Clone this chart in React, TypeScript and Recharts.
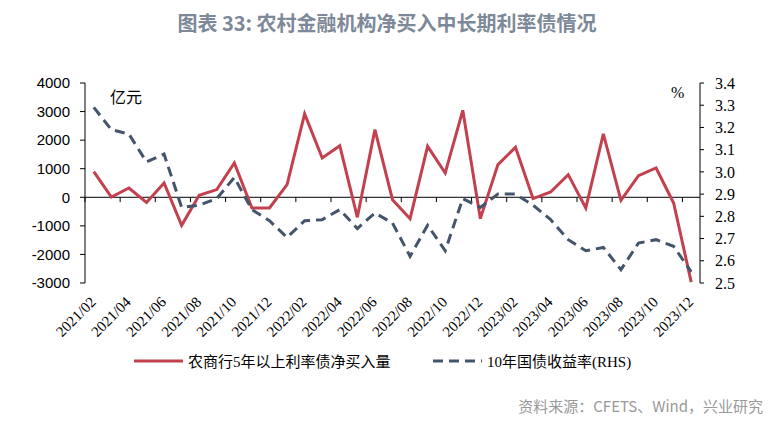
import { ComposedChart, Line, XAxis, YAxis, ReferenceLine } from "recharts";

const months = [
  "2021/02", "2021/03", "2021/04", "2021/05", "2021/06", "2021/07", "2021/08", "2021/09",
  "2021/10", "2021/11", "2021/12", "2022/01", "2022/02", "2022/03", "2022/04", "2022/05",
  "2022/06", "2022/07", "2022/08", "2022/09", "2022/10", "2022/11", "2022/12", "2023/01",
  "2023/02", "2023/03", "2023/04", "2023/05", "2023/06", "2023/07", "2023/08", "2023/09",
  "2023/10", "2023/11", "2023/12",
];

// 农商行5年以上利率债净买入量（亿元）
const netBuy = [
  900, 10, 325, -180, 500, -980, 70, 270, 1200, -375, -375, 440, 2915, 1375, 1807, -701,
  2368, -83, -748, 1784, 851, 3044, -748, 1142, 1749, -48, 186, 792, -375, 2216, -106, 757,
  1026, -200, -2970,
];

// 10年国债收益率（%）
const yield10y = [
  3.29, 3.19, 3.17, 3.045, 3.08, 2.84, 2.85, 2.88, 2.975, 2.83, 2.78, 2.705, 2.78, 2.785,
  2.83, 2.745, 2.815, 2.77, 2.62, 2.76, 2.645, 2.88, 2.84, 2.9, 2.9, 2.85, 2.785, 2.695,
  2.645, 2.66, 2.56, 2.68, 2.695, 2.665, 2.55,
];

const leftTicks = [-3000, -2000, -1000, 0, 1000, 2000, 3000, 4000];
const rightTicks = [2.5, 2.6, 2.7, 2.8, 2.9, 3.0, 3.1, 3.2, 3.3, 3.4];
const seriesNames = ["农商行5年以上利率债净买入量", "10年国债收益率(RHS)"];

const RED = "#C3404F";
const NAVY = "#44546A";
const SERIF = '"Liberation Serif", "Noto Sans CJK SC", serif';

const data = months.map((m, i) => ({ idx: i, month: m, netBuy: netBuy[i], yield: yield10y[i] }));
// label every other month, tick marks sit on the category boundary before it
const labelIdx = months.map((_, i) => i).filter((i) => i % 2 === 0);
const boundaries = labelIdx.map((i) => i - 0.5);

function MonthTick(props: any) {
  const { x, payload } = props;
  const tx = x + 3;
  const ty = 303;
  return (
    <text
      x={tx}
      y={ty}
      transform={`rotate(-45, ${tx}, ${ty})`}
      textAnchor="end"
      fontSize={15}
      fontFamily={SERIF}
      fill="#000"
    >
      {months[payload.value]}
    </text>
  );
}

export default function App() {
  return (
    <div style={{ position: "relative", width: 774, height: 424, background: "#fff", overflow: "hidden" }}>
      <style>{`body{margin:0}`}</style>
      <div
        style={{
          position: "absolute",
          top: 9,
          left: 0,
          width: 774,
          textAlign: "center",
          fontFamily: '"Noto Sans CJK SC", sans-serif',
          fontWeight: 700,
          fontSize: 20,
          lineHeight: "28px",
          color: "#7D8898",
        }}
      >
        图表 33: 农村金融机构净买入中长期利率债情况
      </div>

      <ComposedChart
        width={774}
        height={424}
        data={data}
        margin={{ top: 83, right: 0, left: 0, bottom: 0 }}
        style={{ position: "absolute", top: 0, left: 0 }}
      >
        <XAxis
          dataKey="idx"
          type="number"
          domain={[-0.5, 34.5]}
          ticks={labelIdx}
          interval={0}
          height={141}
          axisLine={false}
          tickLine={false}
          tick={<MonthTick />}
        />
        <YAxis
          yAxisId="left"
          orientation="left"
          width={85}
          domain={[-3000, 4000]}
          ticks={leftTicks}
          interval={0}
          tickSize={5}
          tickMargin={10}
          axisLine={{ stroke: "#000" }}
          tickLine={{ stroke: "#000" }}
          tick={{ fill: "#000", fontSize: 15, fontFamily: '"Liberation Sans", sans-serif' }}
        />
        <YAxis
          yAxisId="right"
          orientation="right"
          width={74}
          domain={[2.5, 3.4]}
          ticks={rightTicks}
          interval={0}
          tickSize={4}
          tickMargin={11}
          tickFormatter={(v: number) => v.toFixed(1)}
          axisLine={{ stroke: "#000" }}
          tickLine={{ stroke: "#000" }}
          tick={{ fill: "#000", fontSize: 16, fontFamily: SERIF }}
        />
        <ReferenceLine yAxisId="left" y={0} stroke="#000" strokeWidth={1} />
        {boundaries.map((b) => (
          <ReferenceLine
            key={b}
            yAxisId="left"
            segment={[
              { x: b, y: 0 },
              { x: b, y: -170 },
            ]}
            stroke="#000"
            strokeWidth={1}
          />
        ))}
        <Line
          yAxisId="left"
          dataKey="netBuy"
          stroke={RED}
          strokeWidth={3}
          dot={false}
          isAnimationActive={false}
        />
        <Line
          yAxisId="right"
          dataKey="yield"
          stroke={NAVY}
          strokeWidth={3}
          strokeDasharray="10 6"
          dot={false}
          isAnimationActive={false}
        />
      </ComposedChart>

      <div style={{ position: "absolute", left: 110, top: 84, fontSize: 16, fontFamily: SERIF, color: "#000" }}>亿元</div>
      <div style={{ position: "absolute", left: 671, top: 84, fontSize: 16, fontFamily: SERIF, color: "#000" }}>%</div>

      {/* legend */}
      <div style={{ position: "absolute", left: 134, top: 350, display: "flex", alignItems: "center", fontSize: 15, fontFamily: SERIF, color: "#000" }}>
        <svg width={49} height={6} style={{ marginRight: 5 }}>
          <line x1={0} y1={3} x2={49} y2={3} stroke={RED} strokeWidth={3} />
        </svg>
        <span>{seriesNames[0]}</span>
      </div>
      <div style={{ position: "absolute", left: 433, top: 350, display: "flex", alignItems: "center", fontSize: 15, fontFamily: SERIF, color: "#000" }}>
        <svg width={49} height={6} style={{ marginRight: 5 }}>
          <line x1={0} y1={3} x2={49} y2={3} stroke={NAVY} strokeWidth={3} strokeDasharray="10 6" />
        </svg>
        <span>{seriesNames[1]}</span>
      </div>

      <div
        style={{
          position: "absolute",
          right: 11,
          top: 395,
          fontSize: 15,
          fontFamily: '"Noto Sans CJK SC", sans-serif',
          color: "#999",
        }}
      >
        资料来源：CFETS、Wind，兴业研究
      </div>
    </div>
  );
}
